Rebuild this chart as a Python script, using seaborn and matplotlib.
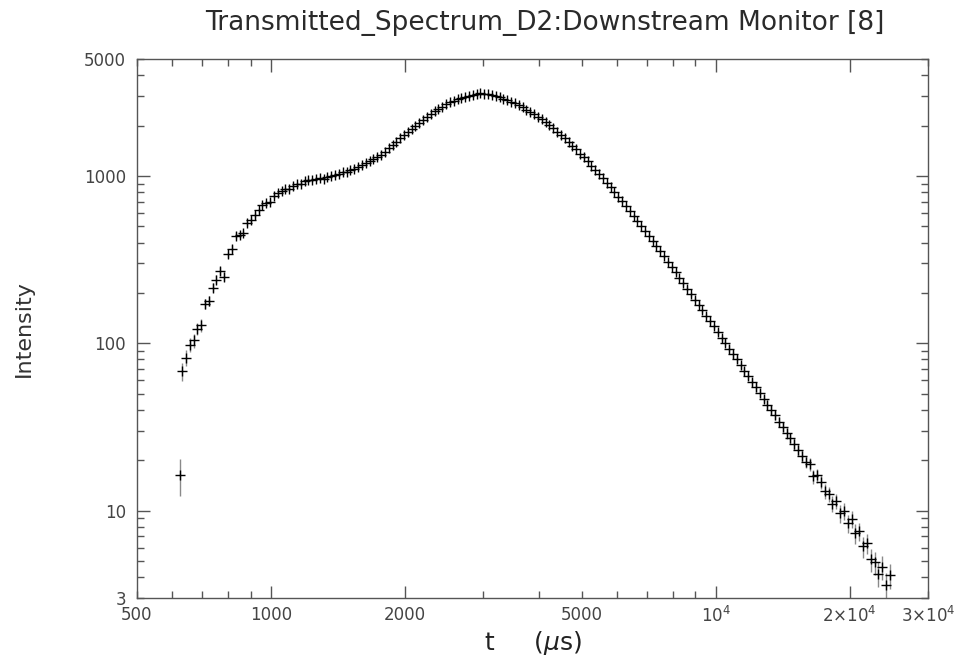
import numpy as np
import pandas as pd
import matplotlib
matplotlib.use("Agg")
import matplotlib.pyplot as plt
import seaborn as sns
from matplotlib.ticker import FixedLocator, FixedFormatter

# ---------------- data ----------------
t_us = [625,
        631, 644, 657, 670, 683, 697, 711, 725, 740, 754, 770, 785, 801, 817, 833, 850, 867, 884, 902, 920,
        938, 957, 976, 996, 1016, 1036, 1057, 1078, 1099, 1121, 1144, 1167, 1190, 1214, 1238, 1263, 1288,
        1314, 1340, 1367, 1394, 1422, 1451, 1480, 1509, 1540, 1570, 1602, 1634, 1666, 1700, 1734, 1768,
        1804, 1840, 1877, 1914, 1952, 1991, 2031, 2072, 2113, 2156, 2199, 2243, 2288, 2333, 2380, 2428,
        2476, 2526, 2576, 2628, 2680, 2734, 2789, 2844, 2901, 2959, 3018, 3079, 3140, 3203, 3267, 3333,
        3399, 3467, 3537, 3607, 3680, 3753, 3828, 3905, 3983, 4063, 4144, 4227, 4311, 4398, 4486, 4575,
        4667, 4760, 4855, 4952, 5051, 5152, 5255, 5361, 5468, 5577, 5689, 5802, 5918, 6037, 6157, 6281,
        6406, 6534, 6665, 6798, 6934, 7073, 7214, 7358, 7506, 7656, 7809, 7965, 8124, 8287, 8453, 8622,
        8794, 8970, 9150, 9333, 9519, 9710, 9904, 10102, 10304, 10510, 10720, 10935, 11154, 11377, 11604,
        11836, 12073, 12315, 12561, 12812, 13068, 13330, 13596, 13868, 14146, 14429, 14717, 15012, 15312,
        15618, 15930, 16249, 16574, 16905, 17244, 17588, 17940, 18299, 18665, 19038, 19419, 19808, 20204,
        20608, 21020, 21440, 21869, 22307, 22753, 23208, 23672, 24145, 24628]

intensity = [16.3,
             68, 82, 98, 104, 122, 128, 172, 180, 215, 240, 270, 250, 340, 368, 440, 445, 455, 520, 545, 585,
             625, 668, 690, 700, 760, 790, 810, 840, 830, 870, 890, 900, 930, 950, 945, 960, 975,
             965, 990, 1005, 1015, 1030, 1050, 1060, 1080, 1100, 1130, 1160, 1190, 1220, 1265, 1290, 1340,
             1390, 1460, 1530, 1600, 1680, 1760, 1840, 1910, 1990, 2080, 2170, 2260, 2340, 2430, 2520, 2600,
             2680, 2750, 2820, 2890, 2930, 2980, 3020, 3060, 3090, 3110, 3100, 3080, 3050, 3000, 2950, 2890,
             2840, 2780, 2720, 2650, 2570, 2490, 2420, 2340, 2260, 2180, 2100, 2010, 1930, 1840, 1760, 1680,
             1600, 1510, 1440, 1360, 1290, 1220, 1150, 1090, 1030, 970, 910, 860, 800, 750, 705, 665,
             620, 580, 540, 505, 470, 440, 410, 380, 355, 330, 305, 285, 265, 245, 228, 212,
             196, 182, 170, 157, 146, 135, 126, 117, 108, 101, 93, 86, 80, 74, 68.5,
             63.5, 59, 54.5, 50.5, 46.5, 43, 40, 37, 34, 31.5, 29, 27, 25, 23,
             21.2, 19.6, 19.0, 16.0, 16.2, 14.8, 13.0, 12.6, 11.0, 11.4, 9.6, 9.9, 8.4, 8.9,
             7.3, 7.5, 6.1, 6.4, 5.1, 4.9, 4.2, 4.6, 3.6, 4.1]

x_tick_major = [1000, 2000, 10000, 20000]
x_tick_major_labels = ["1000", "2000", r"$10^4$", r"$2{\times}10^4$"]
x_tick_minor = [500, 600, 700, 800, 900, 3000, 4000, 5000, 6000, 7000, 8000, 9000, 30000]
x_tick_minor_labels = ["500", "", "", "", "", "", "", "5000", "", "", "", "", r"$3{\times}10^4$"]
y_tick_major = [10, 100, 1000]
y_tick_major_labels = ["10", "100", "1000"]
y_tick_minor = [3, 4, 5, 6, 7, 8, 9, 20, 30, 40, 50, 60, 70, 80, 90,
                200, 300, 400, 500, 600, 700, 800, 900, 2000, 3000, 4000, 5000]
y_tick_minor_labels = ["3"] + [""] * 25 + ["5000"]

title = "Transmitted_Spectrum_D2:Downstream Monitor [8]"
xlabel = r"t     ($\mu$s)"
ylabel = "Intensity"

# ---------------- figure ----------------
sns.set_theme(style="ticks")
plt.rcParams["font.family"] = ["DejaVu Sans"]
plt.rcParams["mathtext.fontset"] = "dejavusans"

df = pd.DataFrame({"t": t_us, "I": intensity})
t_arr = np.array(t_us, dtype=float)
i_arr = np.array(intensity, dtype=float)
# counting-statistics style error bars (wider time bins at long t)
yerr = i_arr / np.sqrt(i_arr * t_arr ** 0.59 * 0.0225)

fig = plt.figure(figsize=(9.58, 6.65), dpi=100)
ax = fig.add_axes([137 / 958, 1 - 598 / 665, (928 - 137) / 958, (598 - 59) / 665])

ax.errorbar(t_arr, i_arr, yerr=yerr, fmt="none", ecolor="#8a8a8a", elinewidth=1.0, capsize=0, zorder=2)
sns.scatterplot(data=df, x="t", y="I", ax=ax, marker="+", color="black", s=48, linewidth=1.0, zorder=3,
                legend=False)

ax.set_xscale("log")
ax.set_yscale("log")
ax.set_xlim(500, 30000)
ax.set_ylim(3, 5000)

ax.xaxis.set_major_locator(FixedLocator(x_tick_major))
ax.xaxis.set_major_formatter(FixedFormatter(x_tick_major_labels))
ax.xaxis.set_minor_locator(FixedLocator(x_tick_minor))
ax.xaxis.set_minor_formatter(FixedFormatter(x_tick_minor_labels))
ax.yaxis.set_major_locator(FixedLocator(y_tick_major))
ax.yaxis.set_major_formatter(FixedFormatter(y_tick_major_labels))
ax.yaxis.set_minor_locator(FixedLocator(y_tick_minor))
ax.yaxis.set_minor_formatter(FixedFormatter(y_tick_minor_labels))

tick_col = "#555555"
for which, length in (("major", 9), ("minor", 5)):
    ax.tick_params(axis="both", which=which, direction="in", length=length, width=1.0,
                   top=True, right=True, colors=tick_col, labelcolor="#444444", labelsize=12)
ax.tick_params(axis="x", which="both", pad=6)
ax.tick_params(axis="y", which="both", pad=8)
for sp in ax.spines.values():
    sp.set_color(tick_col)
    sp.set_linewidth(1.0)

ax.set_xlabel(xlabel, fontsize=18, color="#222222", labelpad=2)
ax.set_ylabel(ylabel, fontsize=16, color="#333333", labelpad=36)
fig.text(545 / 958, 1 - 23 / 665, title, ha="center", va="center", fontsize=19, color="#2a2a2a")

fig.savefig("out.png", dpi=100, facecolor="white")
